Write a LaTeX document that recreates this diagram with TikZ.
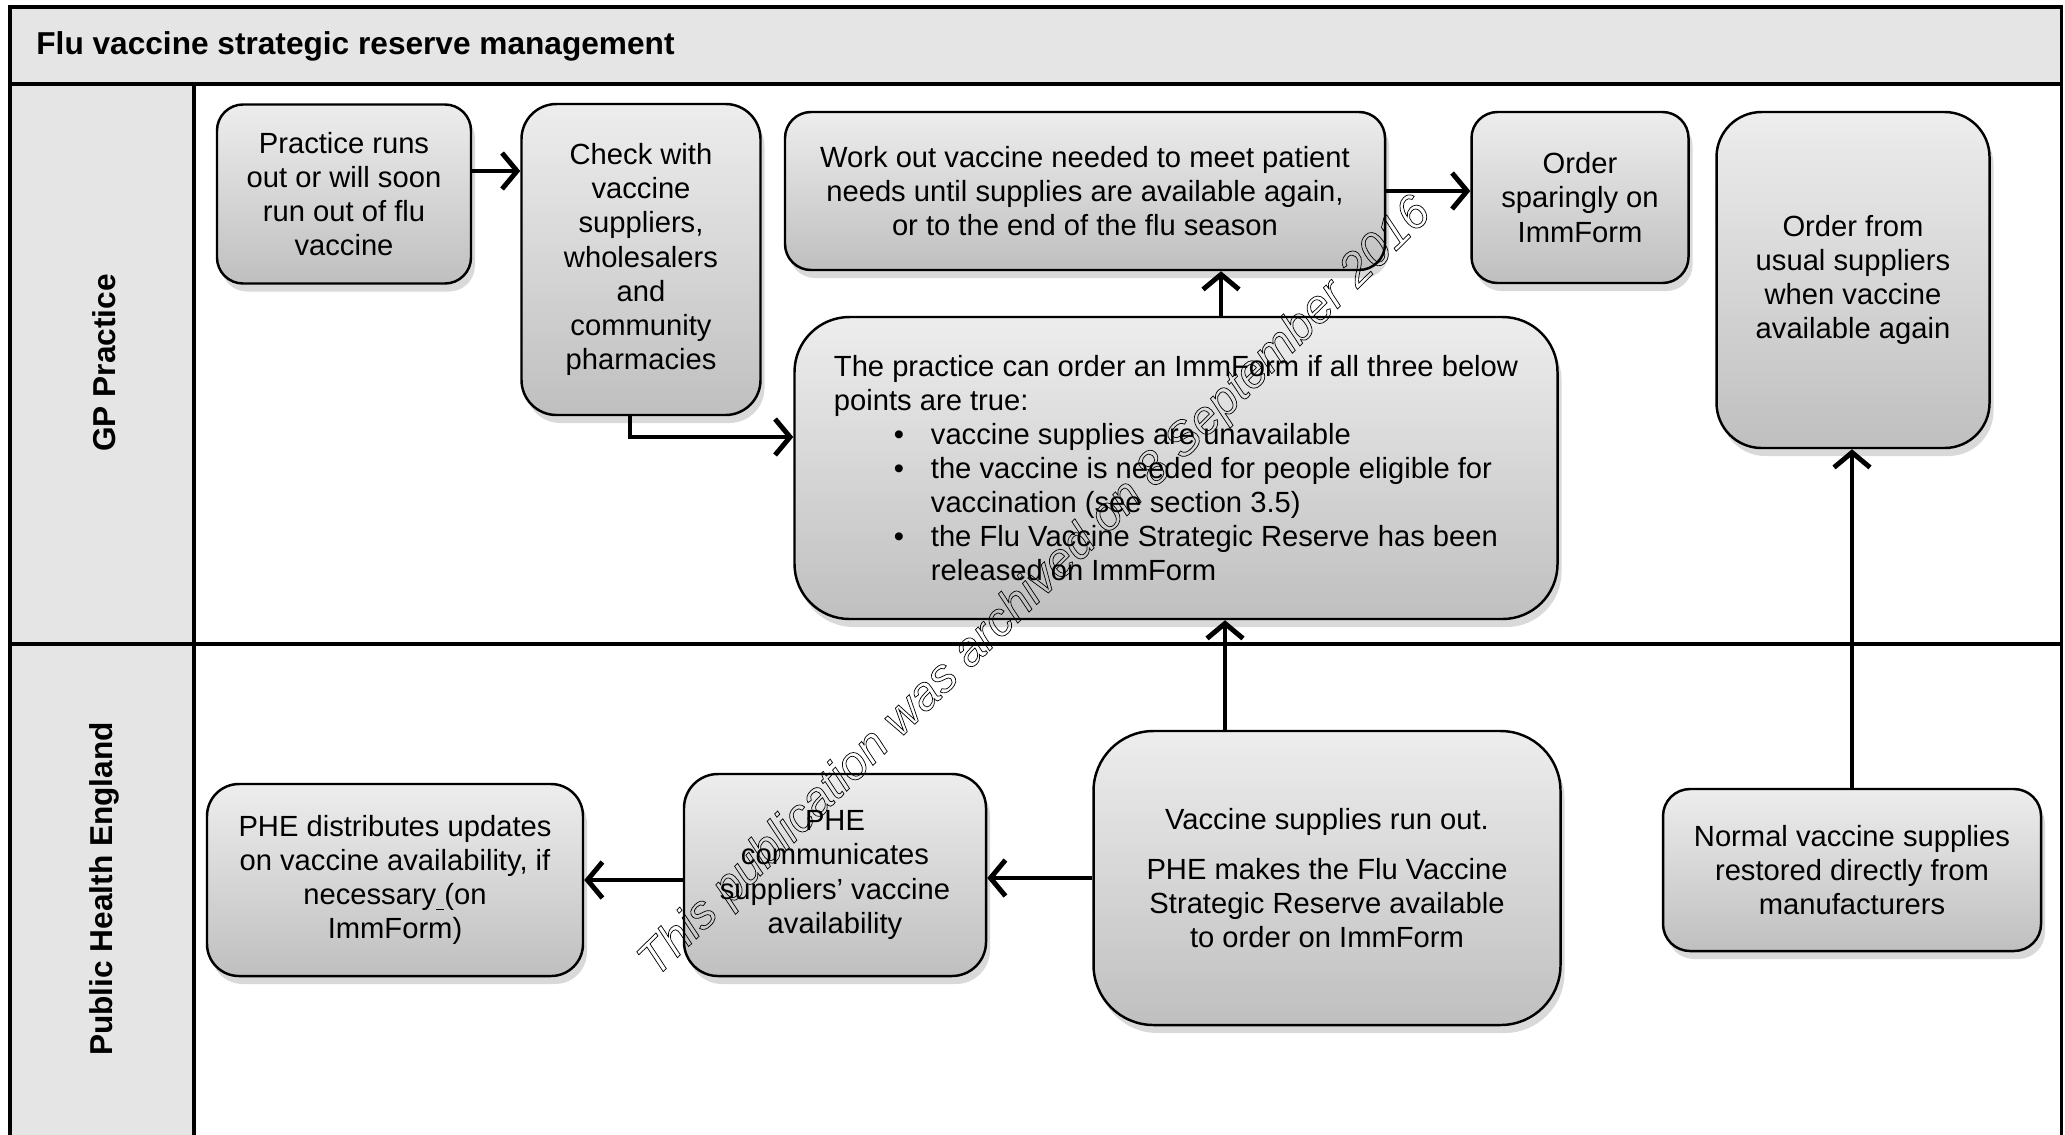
\documentclass[tikz,border=0pt]{standalone}
\usepackage{fontspec}
\setmainfont{Liberation Sans}
\usetikzlibrary{arrows.meta,shadows,positioning}

\newcommand{\bpt}{\hspace*{6mm}\makebox[3.7mm][l]{\textbullet}}
\newcommand{\bcont}{\hspace*{9.7mm}}

\begin{document}
\begin{tikzpicture}[
        lanebg/.style = {draw, line width=0.9pt, fill=gray!20}, % Фон дорожек
        lanelabel/.style = {rotate=90, font=\fontsize{9}{11}\selectfont\bfseries},
        stepbox/.style = {draw, line width=0.7pt, rounded corners=2.6mm,
            top color=gray!14, bottom color=gray!50, align=center,
            drop shadow={shadow xshift=0.4mm, shadow yshift=-0.8mm, opacity=0.3},
            font=\fontsize{8.3}{9.7}\selectfont, inner sep=0pt}, % Стиль блоков
        flow/.style = {line width=1.4pt, -{Straight Barb[length=1.5mm,width=3.6mm]}},
    ]
    \useasboundingbox (0,0) rectangle (20.65,-11.34);

    % рамка и дорожки
    \draw[lanebg] (0.10,-0.07) rectangle (20.615,-0.84);
    \draw[lanebg] (0.10,-0.84) rectangle (1.94,-11.60);
    \draw[line width=0.9pt] (1.94,-0.84) -- (20.615,-0.84) -- (20.615,-11.60);
    \draw[line width=0.9pt] (0.10,-6.44) -- (20.615,-6.44);

    \node[anchor=west, font=\fontsize{9}{11}\selectfont\bfseries] (title) at (0.24,-0.465)
        {Flu vaccine strategic reserve management};
    \node[lanelabel] (gp) at (1.04,-3.63) {GP Practice};
    \node[lanelabel] (phe) at (1.04,-8.89) {Public Health England};

    % блоки GP Practice
    \node[stepbox, minimum width=2.54cm, minimum height=1.79cm] (runout) at (3.44,-1.94)
        {Practice runs\\out or will soon\\run out of flu\\vaccine};
    \node[stepbox, minimum width=2.39cm, minimum height=3.11cm, rounded corners=3.5mm] (check) at (6.41,-2.595)
        {Check with\\vaccine\\suppliers,\\wholesalers\\and\\community\\pharmacies};
    \node[stepbox, minimum width=6.00cm, minimum height=1.58cm] (workout) at (10.85,-1.91)
        {Work out vaccine needed to meet patient\\needs until supplies are available again,\\or to the end of the flu season};
    \node[stepbox, minimum width=2.17cm, minimum height=1.71cm] (sparing) at (15.80,-1.975)
        {Order\\sparingly on\\ImmForm};
    \node[stepbox, minimum width=2.73cm, minimum height=3.36cm, rounded corners=4.5mm] (usual) at (18.53,-2.80)
        {Order from\\usual suppliers\\when vaccine\\available again};
    \node[stepbox, minimum width=7.63cm, minimum height=3.02cm, rounded corners=5.5mm, align=left] (rules) at (11.76,-4.68)
        {The practice can order an ImmForm if all three below\\
         points are true:\\
         \bpt vaccine supplies are unavailable\\
         \bpt the vaccine is needed for people eligible for\\
         \bcont vaccination (see section 3.5)\\
         \bpt the Flu Vaccine Strategic Reserve has been\\
         \bcont released on ImmForm};

    % блоки Public Health England
    \node[stepbox, minimum width=3.76cm, minimum height=1.92cm, rounded corners=3.2mm] (distrib) at (3.95,-8.80)
        {PHE distributes updates\\on vaccine availability, if\\necessary\underline{\ }(on\\ImmForm)};
    \node[stepbox, minimum width=3.02cm, minimum height=2.02cm, rounded corners=3.4mm] (comm) at (8.35,-8.75)
        {PHE\\communicates\\suppliers’ vaccine\\availability};
    \node[stepbox, minimum width=4.67cm, minimum height=2.94cm, rounded corners=6mm] (supplies) at (13.27,-8.78)
        {Vaccine supplies run out.\\[4.5pt]PHE makes the Flu Vaccine\\Strategic Reserve available\\to order on ImmForm};
    \node[stepbox, minimum width=3.78cm, minimum height=1.62cm, rounded corners=2.7mm] (normal) at (18.52,-8.70)
        {Normal vaccine supplies\\restored directly from\\manufacturers};

    % связи
    \draw[flow] ([yshift=2.3mm]runout.east) -- ([yshift=2.3mm]runout.east -| check.west);
    \draw[flow] ([xshift=-1.1mm]check.south) |- ([yshift=3.1mm]rules.west);
    \draw[flow] ([xshift=4.5mm]rules.north) -- ([xshift=4.5mm]rules.north |- workout.south);
    \draw[flow] (workout.east) -- (workout.east -| sparing.west);
    \draw[flow] ([xshift=-10.2mm]supplies.north) -- ([xshift=-10.2mm]supplies.north |- rules.south);
    \draw[flow] (supplies.west) -- (supplies.west -| comm.east);
    \draw[flow] ([yshift=-0.5mm]comm.west) -- ([yshift=-0.5mm]comm.west -| distrib.east);
    \draw[flow] (normal.north) -- (normal.north |- usual.south);

    % водяной знак
    \node[rotate=44.5, font=\fontsize{13.5}{16}\selectfont\itshape] (stamp) at (10.36,-5.88)
        {\special{pdf:code q 1 Tr 0.2 w}This publication was archived on 8 September 2016\special{pdf:code Q}};
\end{tikzpicture}
\end{document}
